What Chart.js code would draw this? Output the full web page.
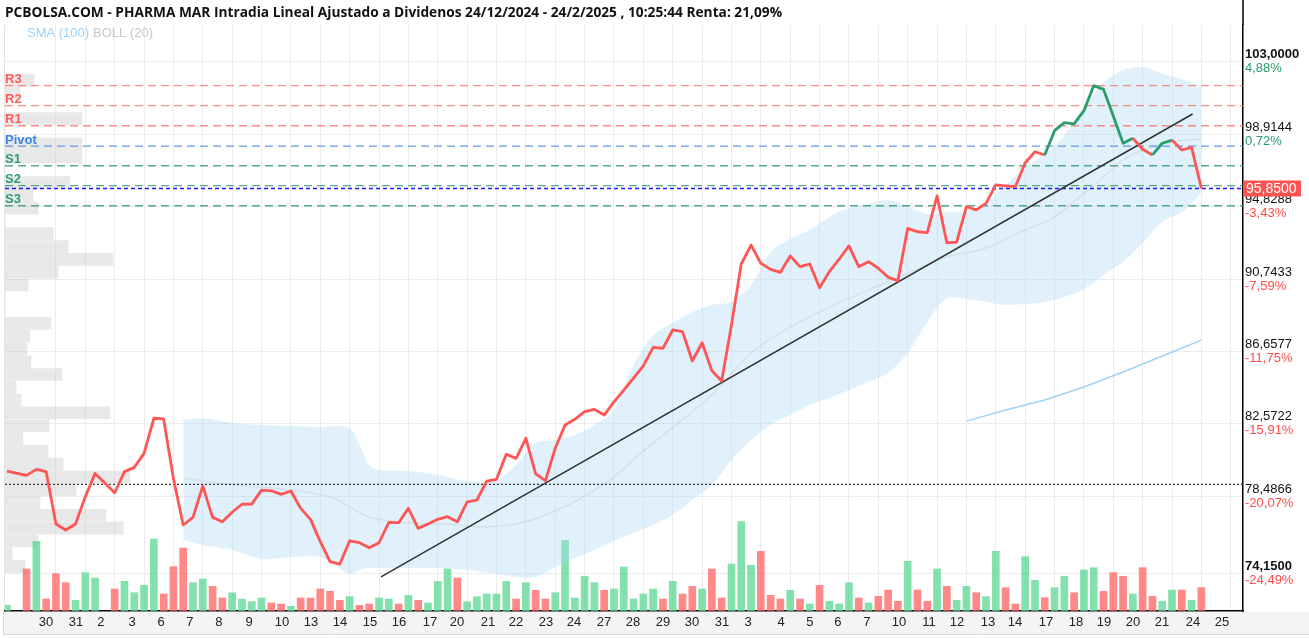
<!DOCTYPE html>
<html><head><meta charset="utf-8">
<script src="https://cdn.jsdelivr.net/npm/chart.js@4.4.1/dist/chart.umd.min.js"></script>
<style>html,body{margin:0;padding:0;background:#fff;overflow:hidden}canvas{display:block}</style>
</head><body>
<canvas id="c" width="1309" height="638"></canvas>
<script>
const titleText = 'PCBOLSA.COM - PHARMA MAR Intradia Lineal Ajustado a Dividenos 24/12/2024 - 24/2/2025 , 10:25:44 Renta: 21,09%';

// intraday closes, one per slot (null = no sample)
const prices = [79.91,null,79.67,80.01,79.88,76.93,76.59,76.93,78.47,79.78,
null,78.69,79.88,80.12,80.91,82.89,82.85,79.50,76.87,77.30,
79.07,77.30,77.05,77.59,78.04,78.05,78.84,78.80,78.60,78.79,
77.81,77.19,75.93,74.80,74.67,75.98,75.87,75.59,75.87,77.02,
77.00,77.81,76.68,76.93,77.19,77.34,77.05,78.18,78.28,79.35,
79.45,80.86,80.63,81.76,79.75,79.37,81.20,82.51,82.83,83.26,
83.39,83.07,83.82,84.48,85.16,85.84,86.89,86.84,87.87,87.77,
86.12,87.15,85.57,84.99,88.15,91.59,92.66,91.63,91.29,91.12,
92.04,91.44,91.59,90.25,91.16,91.86,92.61,91.44,91.72,91.35,
90.84,90.65,93.60,93.41,93.36,95.43,92.79,92.83,94.82,94.64,
95.01,96.05,96.00,95.95,97.30,97.92,97.74,99.11,99.56,99.49,
100.24,101.65,101.44,99.94,98.40,98.68,98.06,97.74,98.40,98.58,
98.02,98.17,95.85];

// volume per slot (relative units)
const volumes = [5.7,null,42,69.7,12,37.3,28.3,10.7,38.3,33,
null,22,29.7,18.3,25.7,72,17,44.3,63,28.3,
32,24.7,13,18.3,12,9.3,13,8,7,4.7,
13,13,22,19.7,10.7,14.3,5.7,7,13,12,
7,15.7,10.7,8,29.7,42,33,9.3,14.3,17,
17,29.7,12,28.3,20.7,12,18.3,70.7,13,34.7,
28.3,20.7,22,44,12,17,22,12,29.7,17,
24.7,22,42,13,47,89.3,45.7,59.7,15.7,12,
20.7,12,7,25.7,9.7,7,28.3,13,8,14.7,
21,9.7,49.7,21,9.7,42,24.7,10.7,24.7,18.3,
14.3,59.7,23.3,7,54.3,30.7,13.3,23.3,34.7,18.3,
41,43.3,19.7,38.3,34.7,17,43.3,14.7,9.7,21,
21,10.7,23.3];

const bandSlots = [18,20,23,26,29,32,35,36,37,38,41,44,47,50,52,54,56,58,60,62,64,66,68,70,72,74,76,78,80,82,84,86,88,90,92,94,96,98,100,102,104,106,108,110,112,114,116,118,120,122];
const bandUpper = [82.79,82.90,82.62,82.51,82.45,82.40,82.34,81.38,80.25,79.97,79.91,79.69,79.35,79.41,80.25,81.49,81.66,81.95,82.51,83.36,85.89,87.59,88.26,88.88,89.28,89.45,90.41,92.27,93.00,93.51,94.24,94.75,94.97,95.20,94.86,94.41,94.52,94.55,95.03,96.05,97.00,97.79,98.87,100.39,101.80,102.53,102.70,102.31,102.02,101.63];
const bandLower = [76.02,75.74,75.46,74.95,75.06,75.06,74.10,74.33,74.44,74.44,74.44,74.44,74.33,74.10,73.94,73.94,74.50,75.01,75.46,75.97,76.42,76.87,77.43,78.28,79.13,80.54,81.66,82.51,83.07,83.64,84.03,84.48,84.93,85.44,86.57,88.32,89.67,89.61,89.45,89.28,89.33,89.45,89.73,90.18,90.97,91.70,92.77,93.96,94.52,95.59];

const midSlots = [18,23,28,33,37,41,45,48,52,55,58,60,62,65,72,76,80,84,88,92,96,100,104,107,110,112,114,116,119,122];
const bollMid = [79.52,79.13,78.90,78.45,77.32,76.98,76.93,76.76,76.93,77.43,78.17,78.84,79.58,81.04,84.20,86.57,88.04,89.16,90.12,91.08,91.98,92.49,93.51,94.24,95.59,96.50,97.46,98.02,98.47,98.64];

const smaSlots = [98,102,106,110,114,118,122];
const sma100 = [82.73,83.36,83.92,84.65,85.50,86.40,87.30];

const trendSlots = [38.2,121.1];
const trendValues = [73.94,100.05];

const pivotNames = ['R3','R2','R1','Pivot','S1','S2','S3'];
const pivotValues = [101.65,100.52,99.39,98.24,97.13,96.01,94.88];
const lastPrice = 95.85;
const refPrice = 79.16;

const profilePrices = [74.53,75.25,75.97,76.69,77.42,78.14,78.86,79.58,80.30,81.02,81.75,82.47,83.19,83.91,84.63,85.36,86.08,86.80,87.52,88.24,88.97,89.69,90.41,91.13,91.85,92.58,93.30,94.02,94.74,95.46,96.18,96.91,97.63,98.35,99.07,99.79,100.52,101.24,101.96];
const profileVolumes = [20,7,33,118,101,35,71,125,58,43,18,44,105,16,11,57,26,22,25,46,0,0,23,53,108,63,48,0,33,28,65,0,77,77,0,77,0,15,29];

const dayLabels = ['30','31','2','3','6','7','8','9','10','13','14','15','16','17','20','21','22','23','24','27','28','29','30','31','3','4','5','6','7','10','11','12','13','14','17','18','19','20','21','24','25'];
const dayLabelSlots = [3.98,7.05,9.6,12.77,15.73,18.69,21.65,24.72,28.09,31.05,34.01,37.08,40.04,43.21,45.97,49.13,51.99,55.06,57.92,60.98,63.94,67.01,69.97,73.03,75.69,79.06,82.02,84.88,87.84,91.11,94.18,97.04,100.2,102.96,106.13,109.19,112.05,115.01,117.98,121.14,124.1];

const yTicks = [74.15,78.4866,82.5722,86.6577,90.7433,94.8288,98.9144,103.0];
const yTickPct = ['-24,49%','-20,07%','-15,91%','-11,75%','-7,59%','-3,43%','0,72%','4,88%'];

// ---------- styling ----------
const FONT = "'Liberation Sans', Arial, sans-serif";
const RED = '#ff5555', GREEN = '#2a9d6e';
const BAR_UP = 'rgba(90,215,145,0.75)', BAR_DN = 'rgba(255,90,90,0.72)';
const PIV_COL = ['rgba(255,100,100,0.75)','rgba(255,100,100,0.75)','rgba(255,100,100,0.75)','rgba(70,140,225,0.85)','rgba(46,150,110,0.8)','rgba(46,150,110,0.8)','rgba(46,150,110,0.8)'];
const PIV_TXT = ['#ff5a5a','#ff5a5a','#ff5a5a','#3a86e0','#2e9e6e','#2e9e6e','#2e9e6e'];
const X_MIN = -0.204, X_MAX = 126.25, Y_MIN = 72.02, Y_MAX = 105.07;
const fmt4 = v => v.toFixed(4).replace('.', ',');
const gridSlots = []; for (let s = 5; s <= 125; s += 3) gridSlots.push(s);

Chart.defaults.font.family = FONT;
Chart.defaults.font.size = 13;

const pts = (xs, ys) => xs.map((x, i) => ({x, y: ys[i]}));
const flat = v => [{x: X_MIN, y: v}, {x: X_MAX, y: v}];

const datasets = [
  { type:'line', label:'price', data: prices.map((p,i)=>({x:i,y:p})), borderColor: RED, borderWidth: 2.8,
    pointRadius:0, tension:0, spanGaps:true, order:0, borderJoinStyle:'round',
    segment:{ borderColor: c => c.p1.parsed.y > pivotValues[3] ? GREEN : RED } },
  { type:'line', label:'trend', data: pts(trendSlots, trendValues), borderColor:'#333', borderWidth:1.5, pointRadius:0, order:1 },
  { type:'line', label:'last', data: flat(lastPrice), borderColor:'#1a1aff', borderWidth:1.5, borderDash:[4,3], pointRadius:0, order:2 },
];
pivotValues.forEach((v,i)=>datasets.push({ type:'line', label:pivotNames[i], data: flat(v), borderColor: PIV_COL[i], borderWidth:1.4, borderDash:[8,5], pointRadius:0, order:3 }));
datasets.push(
  { type:'line', label:'ref', data: flat(refPrice), borderColor:'#333', borderWidth:1.2, borderDash:[2,2], pointRadius:0, order:4 },
  { type:'line', label:'SMA100', data: pts(smaSlots, sma100), borderColor:'rgba(150,205,245,0.9)', borderWidth:1.5, pointRadius:0, order:5 },
  { type:'line', label:'BOLL mid', data: pts(midSlots, bollMid), borderColor:'rgba(200,200,200,0.4)', borderWidth:1.5, pointRadius:0, tension:0.3, order:6 },
  { type:'line', label:'BOLL up', data: pts(bandSlots, bandUpper), borderWidth:0, pointRadius:0, tension:0.3, fill:'+1', backgroundColor:'rgba(170,215,245,0.36)', order:7 },
  { type:'line', label:'BOLL low', data: pts(bandSlots, bandLower), borderWidth:0, pointRadius:0, tension:0.3, fill:false, order:8 },
  { type:'bar', label:'vol', data: volumes.map((v,i)=>({x:i,y:v})), xAxisID:'x', yAxisID:'yv', barThickness:7, grouped:false, order:9,
    backgroundColor: c => { const i=c.dataIndex; let j=i-1; while(j>=0 && prices[j]==null) j--; return (j<0 || prices[i]>=prices[j]) ? BAR_UP : BAR_DN; } },
  { type:'bar', label:'profile', indexAxis:'y', data: profilePrices.map((p,i)=>({x:profileVolumes[i], y:p})), xAxisID:'xp', yAxisID:'y',
    barThickness:12, grouped:false, backgroundColor:'rgba(200,200,200,0.42)', order:10 }
);

const deco = {
  id:'deco',
  beforeDraw(chart){
    const {ctx, chartArea:a} = chart;
    ctx.save();
    ctx.fillStyle='#fff'; ctx.fillRect(0,0,chart.width,chart.height);
    ctx.fillStyle='#f4f4f4'; ctx.fillRect(3, a.bottom+1, chart.width-3, 634-(a.bottom+1));
    ctx.strokeStyle='#dadada'; ctx.lineWidth=1;
    ctx.beginPath(); ctx.moveTo(3,634.5); ctx.lineTo(chart.width,634.5); ctx.stroke();
    ctx.beginPath(); ctx.moveTo(3.5,a.bottom); ctx.lineTo(3.5,634); ctx.stroke();
    ctx.strokeStyle='#e4e4e4';
    ctx.beginPath(); ctx.moveTo(a.left-0.5,a.top); ctx.lineTo(a.left-0.5,a.bottom); ctx.stroke();
    ctx.restore();
  },
  afterDatasetsDraw(chart){
    const {ctx, chartArea:a, scales:{y}} = chart;
    ctx.save();
    ctx.font = "bold 13px " + FONT; ctx.textAlign='left'; ctx.textBaseline='alphabetic';
    pivotValues.forEach((v,i)=>{ ctx.fillStyle = PIV_TXT[i]; ctx.fillText(pivotNames[i], a.left, y.getPixelForValue(v)-2.5); });
    ctx.restore();
  },
  afterDraw(chart){
    const {ctx, chartArea:a, scales:{y}} = chart;
    ctx.save();
    ctx.fillStyle='#111'; ctx.font = "bold 14px 'Open Sans', " + FONT; ctx.textBaseline='middle'; ctx.textAlign='left';
    ctx.fillText(titleText, 5, 13, 777);
    ctx.font = "13px " + FONT;
    ctx.fillStyle='#9dd3f7'; ctx.fillText('SMA (100)', 27, 33);
    ctx.fillStyle='#c8c8c8'; ctx.fillText('BOLL (20)', 93, 33);
    yTicks.forEach((v,i)=>{ ctx.fillStyle = yTickPct[i].startsWith('-') ? '#ff4d4d' : '#2a9d6e'; ctx.fillText(yTickPct[i], a.right+2, y.getPixelForValue(v)+7); });
    const pp = y.getPixelForValue(lastPrice);
    ctx.fillStyle='#ff5252'; ctx.fillRect(a.right+1, pp-8, 57, 16);
    ctx.fillStyle='#fff'; ctx.font = "14px " + FONT; ctx.fillText(fmt4(lastPrice), a.right+3, pp+0.5);
    ctx.strokeStyle='#000'; ctx.lineWidth=1.5;
    ctx.beginPath(); ctx.moveTo(a.right, 0); ctx.lineTo(a.right, a.top); ctx.stroke();
    ctx.restore();
  }
};

new Chart(document.getElementById('c'), {
  type:'line',
  data:{ datasets },
  options:{
    responsive:false, animation:false, devicePixelRatio:1,
    layout:{ padding:{left:5, top:25, right:0, bottom:0} },
    plugins:{ legend:{display:false}, tooltip:{enabled:false}, title:{display:false} },
    scales:{
      x:{ type:'linear', position:'bottom', min:X_MIN, max:X_MAX, offset:false,
        grid:{ color:'rgba(0,0,0,0)', drawTicks:false, offset:false },
        border:{ display:true, color:'#000', width:1.5 },
        afterBuildTicks: s => { s.ticks = dayLabelSlots.map(v=>({value:v})); },
        afterFit: s => { s.height = 27; },
        ticks:{ autoSkip:false, maxRotation:0, minRotation:0, padding:4, color:'#222', font:{size:13},
          callback:(v,i)=>dayLabels[i] } },
      xg:{ type:'linear', position:'top', min:X_MIN, max:X_MAX, offset:false,
        grid:{ color:'#ececec', drawTicks:false }, border:{display:false},
        afterBuildTicks: s => { s.ticks = gridSlots.map(v=>({value:v})); },
        afterFit: s => { s.height = 0; },
        ticks:{ display:false } },
      y:{ type:'linear', position:'right', min:Y_MIN, max:Y_MAX, offset:false,
        grid:{ color:'#ececec', drawTicks:false, offset:false },
        border:{ display:true, color:'#000', width:1.5 },
        afterBuildTicks: s => { s.ticks = yTicks.map(v=>({value:v})); },
        afterFit: s => { s.width = 66; },
        ticks:{ autoSkip:false, padding:2, labelOffset:-7, color:'#111',
          font: c => ({ size:13, weight: (c.index===0 || c.index===yTicks.length-1) ? 'bold' : 'normal' }),
          callback:(v,i)=>fmt4(yTicks[i]) } },
      yv:{ type:'linear', display:false, min:0, max:586 },
      xp:{ type:'linear', display:false, min:0, max:1238 }
    }
  },
  plugins:[deco]
});
</script>
</body></html>
